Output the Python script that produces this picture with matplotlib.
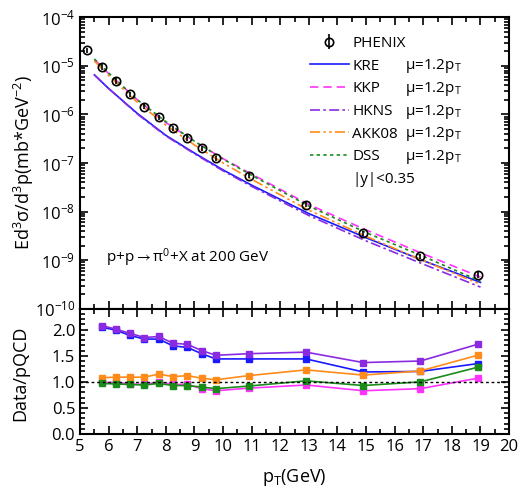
import matplotlib
matplotlib.use('Agg')
import matplotlib.pyplot as plt
from matplotlib.ticker import MultipleLocator, LogLocator, NullFormatter

plt.rcParams['font.family'] = ['Open Sans', 'DejaVu Sans']
plt.rcParams['mathtext.fontset'] = 'custom'
plt.rcParams['mathtext.rm'] = 'Open Sans'
plt.rcParams['mathtext.it'] = 'Open Sans:italic'
plt.rcParams['mathtext.fallback'] = 'stixsans'

# PHENIX data
pt_data = [5.25, 5.75, 6.25, 6.75, 7.25, 7.75, 8.25, 8.75, 9.25, 9.75, 10.9, 12.9, 14.9, 16.9, 18.9]
xs_data = [2.1e-5, 9.5e-6, 4.9e-6, 2.6e-6, 1.45e-6, 8.7e-7, 5.2e-7, 3.3e-7, 2.0e-7, 1.25e-7,
           5.5e-8, 1.4e-8, 3.6e-9, 1.2e-9, 5.0e-10]

# pQCD curves
pt_th = [5.5, 6, 7, 8, 9, 10, 11, 13, 15, 17, 19]
kre = [6.5e-6, 3.4e-6, 1.05e-6, 3.7e-7, 1.6e-7, 7.2e-8, 3.5e-8, 9.1e-9, 2.9e-9, 9.8e-10, 3.5e-10]
kkp = [1.35e-5, 6.9e-6, 2.0e-6, 6.8e-7, 2.8e-7, 1.23e-7, 5.9e-8, 1.4e-8, 4.2e-9, 1.35e-9, 4.5e-10]
hkns = [6.5e-6, 3.4e-6, 1.02e-6, 3.6e-7, 1.55e-7, 6.9e-8, 3.3e-8, 8.3e-9, 2.5e-9, 8.3e-10, 2.8e-10]
akk08 = [1.26e-5, 6.3e-6, 1.78e-6, 6.0e-7, 2.35e-7, 1.0e-7, 4.6e-8, 1.07e-8, 3.1e-9, 9.8e-10, 3.2e-10]
dss = [1.38e-5, 7.1e-6, 2.0e-6, 7.1e-7, 2.8e-7, 1.2e-7, 5.6e-8, 1.3e-8, 3.7e-9, 1.2e-9, 3.7e-10]

# Data/pQCD ratios
pt_r = [5.75, 6.25, 6.75, 7.25, 7.75, 8.25, 8.75, 9.25, 9.75, 10.9, 12.9, 14.9, 16.9, 18.9]
r_kre = [2.05, 1.99, 1.89, 1.82, 1.82, 1.69, 1.66, 1.54, 1.44, 1.44, 1.44, 1.19, 1.20, 1.35]
r_kkp = [0.99, 0.99, 0.96, 0.95, 1.00, 0.95, 0.95, 0.87, 0.83, 0.88, 0.94, 0.83, 0.87, 1.07]
r_hkns = [2.08, 2.01, 1.93, 1.85, 1.87, 1.74, 1.72, 1.60, 1.51, 1.54, 1.57, 1.37, 1.40, 1.72]
r_akk08 = [1.08, 1.09, 1.09, 1.09, 1.15, 1.10, 1.12, 1.07, 1.04, 1.12, 1.23, 1.13, 1.21, 1.51]
r_dss = [0.97, 0.96, 0.95, 0.94, 0.97, 0.93, 0.93, 0.90, 0.87, 0.92, 1.02, 0.93, 1.00, 1.28]

c_kre = '#1a1aff'
c_kkp = '#ff33ff'
c_hkns = '#8a2be2'
c_akk = '#ff8c1a'
c_dss = '#1a8c1a'

fig = plt.figure(figsize=(5.2, 4.91), dpi=100)
ax1 = fig.add_axes([0.154, 0.371, 0.825, 0.594])
ax2 = fig.add_axes([0.154, 0.116, 0.825, 0.255], sharex=ax1)

# top panel
yerr = [[v * 0.12 for v in xs_data], [v * 0.12 for v in xs_data]]
h_data = ax1.errorbar(pt_data, xs_data, yerr=yerr, fmt='o', mfc='none', mec='black', ecolor='black',
                      ms=6, mew=1.2, elinewidth=1.2, capsize=0, zorder=5)
h1, = ax1.plot(pt_th, kre, color=c_kre, lw=1.2, ls='-')
h2, = ax1.plot(pt_th, kkp, color=c_kkp, lw=1.2, ls=(0, (5, 3)))
h3, = ax1.plot(pt_th, hkns, color=c_hkns, lw=1.2, ls=(0, (6, 2, 1.5, 2)))
h4, = ax1.plot(pt_th, akk08, color=c_akk, lw=1.2, ls=(0, (6, 2, 1.5, 2, 1.5, 2)))
h5, = ax1.plot(pt_th, dss, color=c_dss, lw=1.2, ls=(0, (2, 2)))
h6, = ax1.plot([], [], ls='none')

ax1.set_yscale('log')
ax1.set_ylim(1e-10, 1e-4)
ax1.set_xlim(5, 20)
ax1.yaxis.set_major_locator(LogLocator(base=10, numticks=10))
ax1.yaxis.set_minor_locator(LogLocator(base=10, subs=range(2, 10), numticks=20))
ax1.yaxis.set_minor_formatter(NullFormatter())
ax1.tick_params(axis='x', labelbottom=False)
ax1.text(0.06, 0.16, 'p+p$\\rightarrow$π$^0$+X at 200 GeV', transform=ax1.transAxes, fontsize=11)

leg = ax1.legend([h_data, h1, h2, h3, h4, h5, h6],
                 ['PHENIX', 'KRE', 'KKP', 'HKNS', 'AKK08', 'DSS', '|y|<0.35'],
                 loc='upper left', bbox_to_anchor=(0.535, 0.935), frameon=False, fontsize=11,
                 handlelength=2.6, handletextpad=0.2, labelspacing=0.5, borderpad=0.0,
                 borderaxespad=0.0)
fig.canvas.draw()
inv = ax1.transAxes.inverted()
for t in leg.get_texts()[1:6]:
    bb = t.get_window_extent()
    x0, y0 = inv.transform((bb.x0, (bb.y0 + bb.y1) / 2))
    ax1.text(0.757, y0, 'μ=1.2p$_\\mathregular{T}$', transform=ax1.transAxes,
             fontsize=11, va='center', ha='left')

# bottom panel
for r, c in [(r_kre, c_kre), (r_kkp, c_kkp), (r_hkns, c_hkns), (r_akk08, c_akk), (r_dss, c_dss)]:
    ax2.plot(pt_r, r, color=c, lw=1.2, marker='s', ms=5)
ax2.axhline(1.0, color='black', ls=(0, (2, 2)), lw=1.0)
ax2.set_ylim(0, 2.4)
ax2.set_xlim(5, 20)
ax2.yaxis.set_major_locator(MultipleLocator(0.5))
ax2.yaxis.set_minor_locator(MultipleLocator(0.1))
ax2.xaxis.set_major_locator(MultipleLocator(1))
ax2.xaxis.set_minor_locator(MultipleLocator(0.5))
ax2.set_xlabel('p$_\\mathregular{T}$(GeV)', fontsize=13, labelpad=9)
ax2.yaxis.set_major_formatter(plt.FuncFormatter(lambda v, p: '%.1f' % v))

# y labels placed in figure coordinates
fig.text(24 / 520, 1 - 163 / 491, 'Ed$^3$σ/d$^3$p(mb*GeV$^{-2}$)', fontsize=13,
         rotation=90, ha='center', va='center')
fig.text(20 / 520, 1 - 373 / 491, 'Data/pQCD', fontsize=13,
         rotation=90, ha='center', va='center')

for ax in (ax1, ax2):
    ax.tick_params(which='both', direction='in', top=True, right=True, width=1.2, labelsize=12)
    ax.tick_params(which='major', length=6)
    ax.tick_params(which='minor', length=3.5)
    for s in ax.spines.values():
        s.set_linewidth(1.5)

fig.savefig('out.png', dpi=100)
